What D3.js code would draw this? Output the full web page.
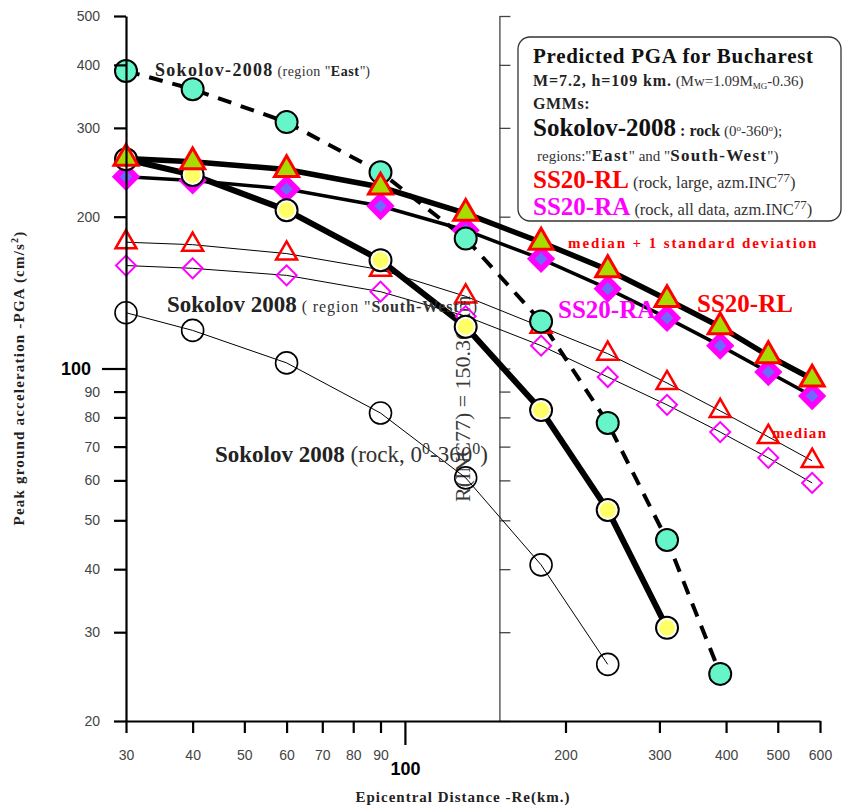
<!DOCTYPE html>
<html>
<head>
<meta charset="UTF-8">
<title>Predicted PGA for Bucharest</title>
<script src="https://cdn.jsdelivr.net/npm/d3@7"></script>
<style>
  body { margin: 0; background: #fff; }
  .ser { font-family: "Liberation Serif", "DejaVu Serif", serif; }
</style>
</head>
<body>
<svg id="chart"></svg>
<script>
// distances (km) for every curve
const distances = [30, 40, 60, 90, 130, 180, 240, 310, 390, 480, 580];

// Sokolov-2008 curves (stop early, short arrays)
const sokolovEast = [389, 358, 308, 245, 181, 124, 78, 45.7, 24.8];
const sokolovSW = [260, 242, 206, 164, 121, 82.7, 52.4, 30.6];
const sokolovRock = [129, 119, 102.6, 81.6, 60.7, 40.8, 25.9];

// SS20 curves
const rlPlus = [261, 257, 248, 229, 203, 178, 157, 137, 121, 106, 95.3];
const raPlus = [240, 236, 227, 210, 188, 165, 144, 126, 111, 98.4, 88.2];
const rlMedian = [178, 176, 169, 157, 139, 121, 107, 93.6, 82.4, 73.2, 65.6];
const raMedian = [160, 158, 153, 142, 127, 111, 96.2, 84.7, 74.8, 66.5, 59.3];

// axes
const xTicks = [30, 40, 50, 60, 70, 80, 90, 100, 200, 300, 400, 500, 600];
const yTicks = [20, 30, 40, 50, 60, 70, 80, 90, 100, 200, 300, 400, 500];
const rInc = 150.36;

(function() {
    var width = 845, height = 810;
    var svg = d3.select("#chart").attr("width", width).attr("height", height);

    var x = d3.scaleLog().domain([30, 600]).range([126, 820]);
    var y = d3.scaleLog().domain([20, 500]).range([721, 16]);

    function pts(vals) {
        return vals.map(function(v, i) { return [distances[i], v]; });
    }
    var line = d3.line().x(function(d) { return x(d[0]); }).y(function(d) { return y(d[1]); });

    // secondary y axis at R(INC77)
    var mirror = svg.append("g").attr("transform", "translate(" + x(rInc) + ",0)")
        .call(d3.axisRight(y).tickValues(yTicks).tickSize(11).tickSizeOuter(0).tickFormat(""));
    mirror.select(".domain").attr("stroke", "#444").attr("stroke-width", 1.3);
    mirror.selectAll(".tick line").attr("stroke", "#444").attr("stroke-width", 1.3);

    // rotated label along the line
    svg.append("text").attr("class", "ser")
        .attr("transform", "translate(470,502) rotate(-90)")
        .attr("font-size", 22).attr("fill", "#3a3a3a")
        .text("R(INC77) = 150.36 km");

    // lines
    var lg = svg.append("g").attr("fill", "none").attr("stroke", "#000");
    lg.append("path").attr("d", line(pts(sokolovRock))).attr("stroke-width", 1);
    lg.append("path").attr("d", line(pts(rlMedian))).attr("stroke-width", 1);
    lg.append("path").attr("d", line(pts(raMedian))).attr("stroke-width", 1);
    lg.append("path").attr("d", line(pts(sokolovEast))).attr("stroke-width", 4).attr("stroke-dasharray", "14,10");
    lg.append("path").attr("d", line(pts(sokolovSW))).attr("stroke-width", 6);
    lg.append("path").attr("d", line(pts(rlPlus))).attr("stroke-width", 5.5);
    lg.append("path").attr("d", line(pts(raPlus))).attr("stroke-width", 3.5);

    var tri = d3.symbol().type(d3.symbolTriangle);
    var sq = d3.symbol().type(d3.symbolSquare);

    function tr(d) { return "translate(" + x(d[0]) + "," + y(d[1]) + ")"; }

    // open circles
    svg.append("g").selectAll("circle").data(pts(sokolovRock)).join("circle")
        .attr("cx", function(d) { return x(d[0]); }).attr("cy", function(d) { return y(d[1]); })
        .attr("r", 11).attr("fill", "none").attr("stroke", "#000").attr("stroke-width", 1.6);

    // open diamonds / triangles (median)
    svg.append("g").selectAll("path").data(pts(raMedian)).join("path")
        .attr("d", sq.size(200)()).attr("transform", function(d) { return tr(d) + " rotate(45)"; })
        .attr("fill", "none").attr("stroke", "#ff00ff").attr("stroke-width", 2);
    svg.append("g").selectAll("path").data(pts(rlMedian)).join("path")
        .attr("d", tri.size(190)()).attr("transform", tr)
        .attr("fill", "none").attr("stroke", "#ff0000").attr("stroke-width", 2.5);

    // filled diamonds
    var dg = svg.append("g").selectAll("g").data(pts(raPlus)).join("g").attr("transform", tr);
    dg.append("path").attr("d", sq.size(400)()).attr("transform", "rotate(45)").attr("fill", "#ff00ff");
    dg.append("path").attr("d", sq.size(80)()).attr("transform", "rotate(45)").attr("fill", "#6b6bff");

    // Sokolov East teal circles
    svg.append("g").selectAll("circle").data(pts(sokolovEast)).join("circle")
        .attr("cx", function(d) { return x(d[0]); }).attr("cy", function(d) { return y(d[1]); })
        .attr("r", 11).attr("fill", "#66f5c8").attr("stroke", "#000").attr("stroke-width", 2);

    // Sokolov SW yellow circles
    var yg = svg.append("g").selectAll("g").data(pts(sokolovSW)).join("g").attr("transform", tr);
    yg.append("circle").attr("r", 11).attr("fill", "#fff").attr("stroke", "#000").attr("stroke-width", 2);
    yg.append("circle").attr("r", 8).attr("fill", "#ffff66");

    // filled triangles
    svg.append("g").selectAll("path").data(pts(rlPlus)).join("path")
        .attr("d", tri.size(250)()).attr("transform", tr)
        .attr("fill", "#a8dc00").attr("stroke", "#ff0000").attr("stroke-width", 3);

    // axes
    var ax = svg.append("g").attr("transform", "translate(0,721)")
        .call(d3.axisBottom(x).tickValues(xTicks).tickSize(12).tickSizeOuter(0).tickFormat(d3.format("d")));
    ax.select(".domain").attr("stroke", "#000").attr("stroke-width", 2.2);
    ax.selectAll(".tick line").attr("stroke", "#000").attr("stroke-width", 2.2)
        .attr("y2", function(d) { return d === 100 ? 24 : 12; });
    ax.selectAll(".tick text").attr("font-family", "Liberation Sans, Arial, sans-serif")
        .attr("dy", 0).attr("y", function(d) { return d === 100 ? 54 : 39; })
        .attr("font-size", function(d) { return d === 100 ? 18 : 14; })
        .attr("font-weight", function(d) { return d === 100 ? "bold" : "normal"; })
        .attr("fill", function(d) { return d === 100 ? "#000" : "#444"; });

    var ay = svg.append("g").attr("transform", "translate(126,0)")
        .call(d3.axisLeft(y).tickValues(yTicks).tickSize(12).tickSizeOuter(0).tickFormat(d3.format("d")));
    ay.select(".domain").attr("stroke", "#000").attr("stroke-width", 2.2);
    ay.selectAll(".tick line").attr("stroke", "#000").attr("stroke-width", 2.2)
        .attr("x2", function(d) { return d === 100 ? -24 : -12; });
    ay.selectAll(".tick text").attr("font-family", "Liberation Sans, Arial, sans-serif")
        .attr("x", function(d) { return d === 100 ? -35 : -26; })
        .attr("font-size", function(d) { return d === 100 ? 18 : 14; })
        .attr("font-weight", function(d) { return d === 100 ? "bold" : "normal"; })
        .attr("fill", function(d) { return d === 100 ? "#000" : "#444"; });

    // axis titles
    svg.append("text").attr("class", "ser").attr("x", 463).attr("y", 802)
        .attr("text-anchor", "middle").attr("font-size", 15).attr("font-weight", "bold")
        .attr("letter-spacing", 1).attr("fill", "#222")
        .text("Epicentral Distance  -Re(km.)");
    var yt = svg.append("text").attr("class", "ser")
        .attr("transform", "translate(24,378) rotate(-90)")
        .attr("text-anchor", "middle").attr("font-size", 15).attr("font-weight", "bold")
        .attr("letter-spacing", 1.2).attr("fill", "#222");
    yt.append("tspan").text("Peak  ground  acceleration -PGA (cm/s");
    yt.append("tspan").attr("dy", -6).attr("font-size", 10).text("2");
    yt.append("tspan").attr("dy", 6).text(")");

    // in-plot annotations
    function rich(xp, yp, parts) {
        var t = svg.append("text").attr("class", "ser").attr("x", xp).attr("y", yp);
        parts.forEach(function(p) {
            var s = t.append("tspan").text(p[0]).attr("font-size", p[1]);
            if (p[2]) s.attr("font-weight", "bold");
            if (p[3]) s.attr("fill", p[3]);
            if (p[4]) s.attr("dy", p[4]);
            if (p[5]) s.attr("letter-spacing", p[5]);
        });
        return t;
    }
    rich(155, 76, [["Sokolov-2008", 18, true, "#222", 0, 1.3], [" (region \"", 14, false, "#333", 0, 0.4],
        ["East", 14, true, "#222", 0, 0.6], ["\")", 14, false, "#333"]]);
    rich(167, 312, [["Sokolov 2008", 23, true, "#222"], [" ( region \"", 16, false, "#333", 0, 0.9],
        ["South-West", 16, true, "#333", 0, 0.9], ["\" )", 16, false, "#333", 0, 0.9]]);
    rich(215, 462, [["Sokolov 2008", 23, true, "#222"], [" (rock, 0", 23, false, "#333"],
        ["0", 16, false, "#333", -8], ["-360", 23, false, "#333", 8], ["0", 16, false, "#333", -8],
        [")", 23, false, "#333", 8]]);
    rich(568, 248, [["median + 1 standard deviation", 15, true, "#ff0000", 0, 1.9]]);
    rich(558, 318, [["SS20-RA", 25, true, "#ff00ff"]]);
    rich(697, 312, [["SS20-RL", 25, true, "#ff0000"]]);
    rich(772, 438, [["median", 15, true, "#ff0000", 0, 1.3]]);

    // legend box
    svg.append("rect").attr("x", 518).attr("y", 37).attr("width", 323).attr("height", 184)
        .attr("rx", 12).attr("fill", "#fff").attr("stroke", "#333").attr("stroke-width", 1.3);
    rich(533, 63, [["Predicted PGA for Bucharest", 21, true, "#111", 0, 0.7]]);
    rich(533, 86, [["M=7.2, h=109 km.", 16, true, "#222", 0, 0.9], [" (Mw=1.09M", 15, false, "#333"],
        ["MG", 9, false, "#333", 3], ["-0.36)", 15, false, "#333", -3]]);
    rich(533, 109, [["GMMs:", 16, true, "#222", 0, 0.6]]);
    rich(533, 136, [["Sokolov-2008", 25, true, "#111"], [" : rock", 16, true, "#222"],
        [" (0", 15, false, "#333"], ["o", 9, false, "#333", -5], ["-360", 15, false, "#333", 5],
        ["o", 9, false, "#333", -5], [");", 15, false, "#333", 5]]);
    rich(537, 161, [["regions:\"", 15, false, "#333"], ["East", 17, true, "#222", 0, 1.3],
        ["\" and \"", 15, false, "#333"], ["South-West", 17, true, "#222", 0, 1.3], ["\")", 15, false, "#333"]]);
    rich(533, 188, [["SS20-RL", 25, true, "#ff0000"], [" (rock, large, azm.INC", 16.5, false, "#333"],
        ["77", 13, false, "#333", -6], [")", 16.5, false, "#333", 6]]);
    rich(533, 215, [["SS20-RA", 25, true, "#ff00ff"], [" (rock, all data, azm.INC", 16.5, false, "#333"],
        ["77", 13, false, "#333", -6], [")", 16.5, false, "#333", 6]]);
})();
</script>
</body>
</html>
